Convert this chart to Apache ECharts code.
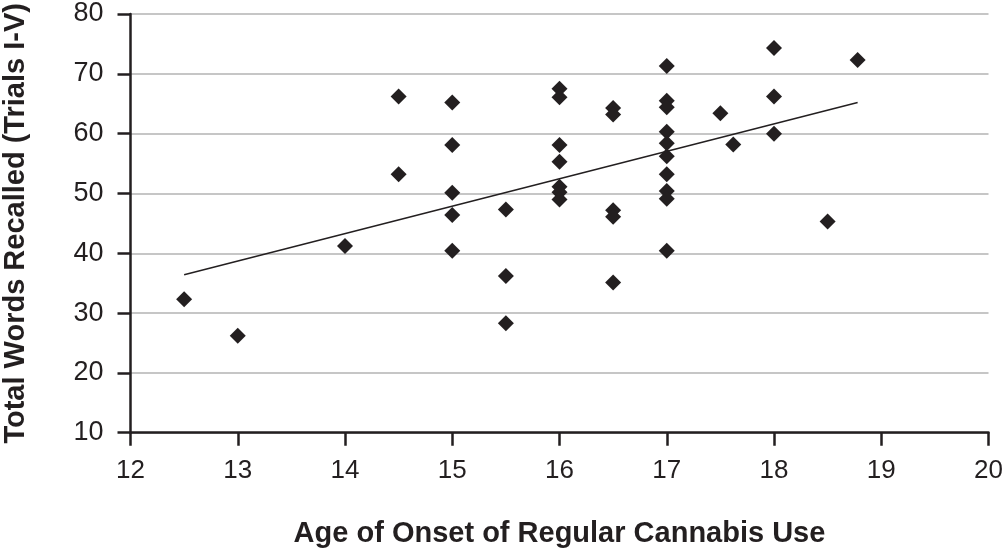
<!DOCTYPE html>
<html>
<head>
<meta charset="utf-8">
<script src="https://cdn.jsdelivr.net/npm/echarts@6/dist/echarts.min.js"></script>
<style>html,body{margin:0;padding:0;background:#fff}#c{width:1004px;height:551px}</style>
</head>
<body>
<div id="c"></div>
<script>
// Age of onset (x) and total words recalled (y)
var ageOnset = [12.5, 13, 14, 14.5, 14.5,
  15, 15, 15, 15, 15,
  15.5, 15.5, 15.5,
  16, 16, 16, 16, 16, 16, 16,
  16.5, 16.5, 16.5, 16.5, 16.5,
  17, 17, 17, 17, 17, 17, 17, 17, 17, 17,
  17.5, 17.62, 18, 18, 18, 18.5, 18.78];
var wordsRecalled = [32.3, 26.2, 41.2, 66.2, 53.2,
  65.2, 58.1, 50.1, 46.4, 40.4,
  47.3, 36.2, 28.3,
  67.5, 66.1, 58.1, 55.3, 51.1, 50.2, 49.0,
  64.3, 63.2, 47.2, 46.1, 35.1,
  71.3, 65.5, 64.4, 60.3, 58.4, 56.2, 53.2, 50.4, 49.1, 40.4,
  63.4, 58.2, 74.3, 66.2, 60.0, 45.3, 72.3];
// Trendline endpoints as drawn
var trendX = [12.5, 18.78];
var trendY = [36.4, 65.2];

var xTicks = {min: 12, max: 20, interval: 1};
var yTicks = {min: 10, max: 80, interval: 10};

var pts = ageOnset.map(function (a, i) { return [a, wordsRecalled[i]]; });
var trend = trendX.map(function (a, i) { return [a, trendY[i]]; });

var FONT = 'Liberation Sans, Arial, Helvetica, sans-serif';
var INK = '#231f20';
var chart = echarts.init(document.getElementById('c'), null, {renderer: 'canvas'});
chart.setOption({
  animation: false,
  backgroundColor: '#fff',
  grid: {left: 130.5, right: 15.5, top: 14, bottom: 118.3, containLabel: false, outerBoundsMode: 'none'},
  xAxis: {
    type: 'value', min: xTicks.min, max: xTicks.max, interval: xTicks.interval,
    name: 'Age of Onset of Regular Cannabis Use', nameLocation: 'middle', nameGap: 87,
    nameTextStyle: {fontFamily: FONT, fontWeight: 'bold', fontSize: 29, color: INK},
    axisLine: {onZero: false, lineStyle: {color: INK, width: 2.5}},
    axisTick: {show: true, length: 13, inside: false, lineStyle: {color: INK, width: 2.5}},
    axisLabel: {fontFamily: FONT, fontSize: 26, color: INK, margin: 25},
    splitLine: {show: false}
  },
  yAxis: {
    type: 'value', min: yTicks.min, max: yTicks.max, interval: yTicks.interval,
    name: 'Total Words Recalled (Trials I-V)', nameLocation: 'middle', nameGap: 100,
    nameTextStyle: {fontFamily: FONT, fontWeight: 'bold', fontSize: 29, color: INK},
    axisLine: {show: true, onZero: false, lineStyle: {color: INK, width: 2.5}},
    axisTick: {show: true, length: 13, inside: false, lineStyle: {color: INK, width: 2.5}},
    axisLabel: {fontFamily: FONT, fontSize: 27, color: INK, margin: 27},
    splitLine: {show: true, lineStyle: {color: '#b3b3b3', width: 1.5}}
  },
  series: [
    {
      type: 'scatter', data: pts, symbol: 'diamond', symbolSize: 16,
      itemStyle: {color: INK, opacity: 1}, z: 3
    },
    {
      type: 'line', data: trend, showSymbol: false, symbol: 'none',
      lineStyle: {color: INK, width: 1.5}, z: 4, silent: true
    }
  ]
});
</script>
</body>
</html>
